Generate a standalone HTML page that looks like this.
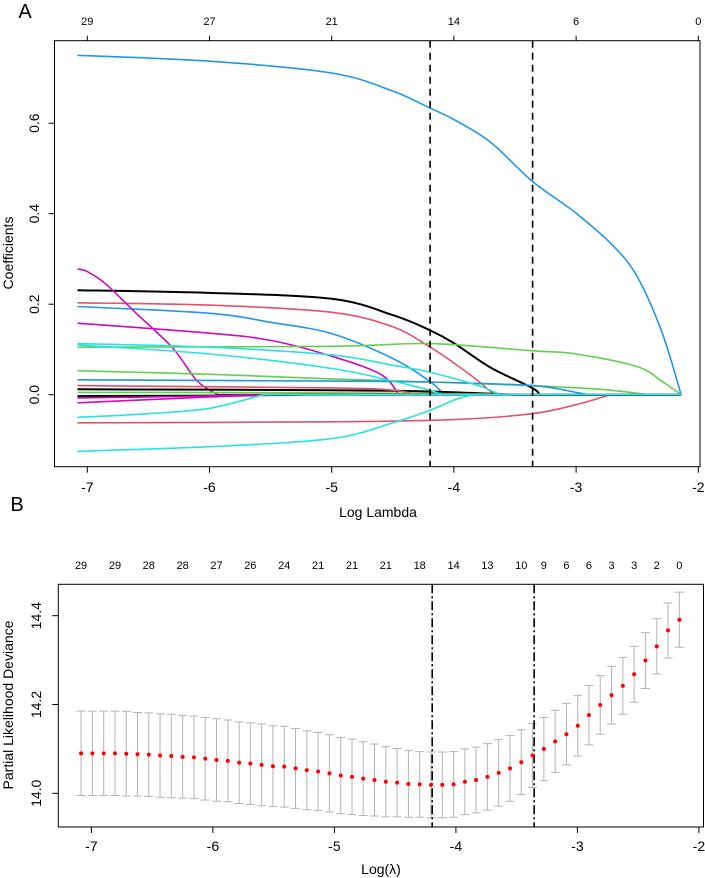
<!DOCTYPE html>
<html><head><meta charset="utf-8"><style>
html,body{margin:0;padding:0;background:#fff;}
svg{display:block;font-family:"Liberation Sans",Arial,sans-serif;}
</style></head><body>
<svg id="chart" width="705" height="878" viewBox="0 0 705 878"></svg>
<script>
// ---------- Panel A data ----------
const aTopTicks = [-7,-6,-5,-4,-3,-2];
const aTopLabels = ["29","27","21","14","6","0"];
const aXTicks = [-7,-6,-5,-4,-3,-2];
const aYTicks = [0.0,0.2,0.4,0.6];
const aYLabels = ["0.0","0.2","0.4","0.6"];
const aVLines = [-4.195,-3.356];
const aEnd = -2.14;
// each path: knots of [logLambda, coefficient]
const pathColors = ["#2297E6","#000000","#DF536B","#2297E6","#CD0BBC","#CD0BBC","#61D04F","#61D04F","#2297E6","#000000","#DF536B","#CD0BBC","#DF536B","#61D04F","#000000","#CD0BBC","#28E2E5","#28E2E5","#28E2E5","#28E2E5"];
const p0 = [[-7.08,0.750],[-6,0.737],[-5,0.711],[-4.5,0.671],[-4.2,0.634],[-4,0.608],[-3.7,0.558],[-3.36,0.472],[-3,0.401],[-2.7,0.33],[-2.5,0.261],[-2.3,0.14],[-2.14,0]];
const p1 = [[-7.08,0.231],[-6,0.225],[-5,0.212],[-4.5,0.176],[-4.2,0.143],[-4,0.114],[-3.7,0.06],[-3.36,0.015],[-3.3,0]];
const p2 = [[-7.08,0.203],[-6,0.198],[-5,0.182],[-4.5,0.150],[-4.2,0.106],[-4,0.070],[-3.8,0.03],[-3.67,0]];
const p3 = [[-7.08,0.195],[-6,0.180],[-5.5,0.160],[-5,0.135],[-4.5,0.080],[-4.2,0.030],[-4.08,0]];
const p4 = [[-7.08,0.278],[-7,0.272],[-6.85,0.245],[-6.6,0.18],[-6.3,0.103],[-6.1,0.03],[-5.93,0]];
const p5 = [[-7.08,0.158],[-6,0.136],[-5.5,0.120],[-5,0.085],[-4.6,0.045],[-4.45,0]];
const p8 = [[-7.08,0.105],[-5,0.107],[-4.2,0.113],[-3.36,0.097],[-3,0.09],[-2.5,0.062],[-2.3,0.03],[-2.14,0]];
const p9 = [[-7.08,0.053],[-6,0.045],[-5,0.035],[-4.2,0.028],[-3.36,0.020],[-2.8,0.012],[-2.4,0]];
const p10 = [[-7.08,0.033],[-5,0.030],[-4.2,0.028],[-3.36,0.020],[-3,0.005],[-2.9,0]];
const p11 = [[-7.08,0.012],[-5,0.010],[-4.2,0.007],[-3.5,0]];
const p12 = [[-7.08,0.020],[-5,0.015],[-4.5,0.010],[-4.3,0]];
const p13 = [[-7.08,-0.018],[-6,-0.005],[-5.5,0]];
const p16 = [[-7.08,-0.062],[-5,-0.060],[-4,-0.055],[-3.36,-0.042],[-3,-0.022],[-2.72,0]];
const p17 = [[-7.08,0.005],[-5,0.004],[-3,0]];
const p18 = [[-7.08,-0.003],[-6,-0.002],[-5.2,0]];
const p19 = [[-7.08,-0.007],[-6.5,-0.005],[-5.4,0]];
const p6 = [[-7.08,0.113],[-6,0.105],[-5,0.088],[-4.5,0.065],[-4.2,0.050],[-3.8,0.02],[-3.62,0]];
const p7 = [[-7.08,0.110],[-6,0.090],[-5,0.058],[-4.5,0.030],[-4.2,0.010],[-4.1,0]];
const p14 = [[-7.08,-0.050],[-6.5,-0.042],[-6,-0.030],[-5.56,0]];
const p15 = [[-7.08,-0.125],[-6,-0.115],[-5,-0.097],[-4.5,-0.062],[-4.2,-0.035],[-4,-0.012],[-3.85,0]];
const aPaths = [p0,p1,p2,p3,p4,p5,p8,p9,p10,p11,p12,p13,p16,p17,p18,p19,p6,p7,p14,p15];

// ---------- Panel B data ----------
const bLogLambda = [-7.085,-6.992,-6.899,-6.806,-6.713,-6.621,-6.528,-6.435,-6.342,-6.249,-6.156,-6.063,-5.970,-5.877,-5.784,-5.692,-5.599,-5.506,-5.413,-5.320,-5.227,-5.134,-5.041,-4.948,-4.855,-4.763,-4.670,-4.577,-4.484,-4.391,-4.298,-4.205,-4.112,-4.019,-3.926,-3.834,-3.741,-3.648,-3.555,-3.462,-3.369,-3.276,-3.183,-3.090,-2.997,-2.905,-2.812,-2.719,-2.626,-2.533,-2.440,-2.347,-2.254,-2.161];
const bMean = [14.090,14.090,14.090,14.090,14.089,14.088,14.087,14.085,14.084,14.082,
14.081,14.078,14.075,14.073,14.069,14.067,14.064,14.061,14.060,14.056,
14.052,14.049,14.045,14.040,14.037,14.033,14.030,14.026,14.024,14.021,
14.020,14.019,14.019,14.020,14.026,14.030,14.037,14.046,14.056,14.070,
14.085,14.100,14.117,14.133,14.152,14.176,14.199,14.221,14.242,14.268,
14.299,14.331,14.367,14.391];
const bSE = [0.095,0.095,0.095,0.095,0.095,0.094,0.094,0.094,0.094,0.093,
0.093,0.093,0.093,0.092,0.092,0.092,0.092,0.091,0.091,0.090,
0.089,0.088,0.087,0.086,0.085,0.083,0.081,0.079,0.077,0.075,
0.074,0.074,0.074,0.074,0.074,0.074,0.075,0.075,0.074,0.073,
0.072,0.071,0.070,0.069,0.068,0.067,0.066,0.065,0.064,0.063,
0.063,0.062,0.062,0.062];
const bTopIdx = [0,3,6,9,12,15,18,21,24,27,30,33,36,39,41,43,45,47,49,51,53];
const bTopLabels = ["29","29","28","28","27","26","24","21","21","21","18","14","13","10","9","6","6","3","3","2","0"];
const bXTicks = [-7,-6,-5,-4,-3,-2];
const bYTicks = [14.0,14.2,14.4];
const bYLabels = ["14.0","14.2","14.4"];
const bVLines = [-4.195,-3.356];

// ---------- drawing ----------
const NS = "http://www.w3.org/2000/svg";
const svg = document.getElementById("chart");
function mk(tag, attrs, parent){
  const e = document.createElementNS(NS, tag);
  for (const k in attrs) e.setAttribute(k, attrs[k]);
  (parent||svg).appendChild(e);
  return e;
}
const aBox = {l:54.5, r:700, t:40.7, b:466.7};
const ax = v => 87.3 + (v + 7) * 122.2;
const ay = v => 394.7 - v * 452.5;
const bBox = {l:58.3, r:703.5, t:584.3, b:827};
const bx = v => 91.4 + (v + 7) * 121.5;
const by = v => 793.3 - (v - 14.0) * 444;

function txt(x,y,s,size,name,extra){
  const t = mk("text", Object.assign({x:x,y:y,"font-size":size,"text-anchor":"middle",fill:"#000"}, extra||{}));
  t.textContent = s;
  
  
  return t;
}
function smoothPath(pts){
  let d = "M"+pts[0][0].toFixed(1)+","+pts[0][1].toFixed(1);
  for (let i=0;i<pts.length-1;i++){
    const p0=pts[Math.max(0,i-1)], p1=pts[i], p2=pts[i+1], p3=pts[Math.min(pts.length-1,i+2)];
    const c1x=p1[0]+(p2[0]-p0[0])/6, c1y=p1[1]+(p2[1]-p0[1])/6;
    const c2x=p2[0]-(p3[0]-p1[0])/6, c2y=p2[1]-(p3[1]-p1[1])/6;
    d += " C"+c1x.toFixed(1)+","+c1y.toFixed(1)+" "+c2x.toFixed(1)+","+c2y.toFixed(1)+" "+p2[0].toFixed(1)+","+p2[1].toFixed(1);
  }
  return d;
}

// ---- Panel A ----
const gA = mk("g", {});


txt(25, 18, "A", 20, "panel-label-a");
const clipA = mk("clipPath", {id:"clipA"});
mk("rect", {x:aBox.l, y:aBox.t, width:aBox.r-aBox.l, height:aBox.b-aBox.t}, clipA);
const gPaths = mk("g", {"clip-path":"url(#clipA)"}, gA);
aPaths.forEach((p,i)=>{
  const pts = p.map(pt=>[ax(pt[0]), ay(pt[1])]);
  let d = smoothPath(pts);
  const last = p[p.length-1];
  if (last[0] < aEnd) d += " L"+ax(aEnd).toFixed(1)+","+ay(0).toFixed(1);
  const e = mk("path", {d:d, fill:"none", stroke:pathColors[i], "stroke-width":(pathColors[i]==="#000000"?2:1.6), "stroke-linejoin":"round"}, gPaths);
  
  
});
aVLines.forEach(v=>{
  const e = mk("line", {x1:ax(v), x2:ax(v), y1:aBox.t, y2:aBox.b, stroke:"#000", "stroke-width":1.6, "stroke-dasharray":"7,5"}, gA);
  
  
});
const boxA = mk("rect", {x:aBox.l, y:aBox.t, width:aBox.r-aBox.l, height:aBox.b-aBox.t, fill:"none", stroke:"#000", "stroke-width":1}, gA);


aTopTicks.forEach((v,i)=>{
  mk("line", {x1:ax(v), x2:ax(v), y1:aBox.t, y2:aBox.t-5, stroke:"#000"}, gA);
  txt(ax(v), 25, aTopLabels[i], 11, "top-axis-label");
});
aXTicks.forEach(v=>{
  mk("line", {x1:ax(v), x2:ax(v), y1:aBox.b, y2:aBox.b+6, stroke:"#000"}, gA);
  txt(ax(v), 492, String(v), 14, "x-tick-label");
});
aYTicks.forEach((v,i)=>{
  mk("line", {x1:aBox.l, x2:aBox.l-6, y1:ay(v), y2:ay(v), stroke:"#000"}, gA);
  txt(39, ay(v), aYLabels[i], 14, "y-tick-label", {transform:"rotate(-90 39 "+ay(v)+")"});
});
txt(378, 517, "Log Lambda", 14, "x-axis-title");
txt(13, 253, "Coefficients", 14, "y-axis-title", {transform:"rotate(-90 13 253)"});

// ---- Panel B ----
const gB = mk("g", {});


txt(17, 511, "B", 20, "panel-label-b");
bLogLambda.forEach((v,i)=>{
  const x = bx(v), yu = by(bMean[i]+bSE[i]), yl = by(bMean[i]-bSE[i]);
  const e = mk("path", {d:"M"+x+","+yu+"L"+x+","+yl+"M"+(x-4.5)+","+yu+"L"+(x+4.5)+","+yu+"M"+(x-4.5)+","+yl+"L"+(x+4.5)+","+yl, stroke:"#b3b3b3", "stroke-width":1, fill:"none"}, gB);
  
  
});
bVLines.forEach(v=>{
  const e = mk("line", {x1:bx(v), x2:bx(v), y1:bBox.t, y2:bBox.b, stroke:"#000", "stroke-width":1.6, "stroke-dasharray":"9,3,2,3"}, gB);
  
  
});
bLogLambda.forEach((v,i)=>{
  const e = mk("circle", {cx:bx(v), cy:by(bMean[i]), r:2, fill:"#ff0000"}, gB);
  
  
});
const boxB = mk("rect", {x:bBox.l, y:bBox.t, width:bBox.r-bBox.l, height:bBox.b-bBox.t, fill:"none", stroke:"#000", "stroke-width":1}, gB);


bTopIdx.forEach((idx,i)=>{
  txt(bx(bLogLambda[idx]), 569, bTopLabels[i], 11, "top-axis-label");
});
bXTicks.forEach(v=>{
  mk("line", {x1:bx(v), x2:bx(v), y1:bBox.b, y2:bBox.b+6, stroke:"#000"}, gB);
  txt(bx(v), 851, String(v), 14, "x-tick-label");
});
bYTicks.forEach((v,i)=>{
  mk("line", {x1:bBox.l, x2:bBox.l-6, y1:by(v), y2:by(v), stroke:"#000"}, gB);
  txt(41, by(v), bYLabels[i], 14, "y-tick-label", {transform:"rotate(-90 41 "+by(v)+")"});
});
txt(381, 874, "Log(λ)", 14, "x-axis-title");
txt(13, 705, "Partial Likelihood Deviance", 14, "y-axis-title", {transform:"rotate(-90 13 705)"});
</script>
</body></html>
